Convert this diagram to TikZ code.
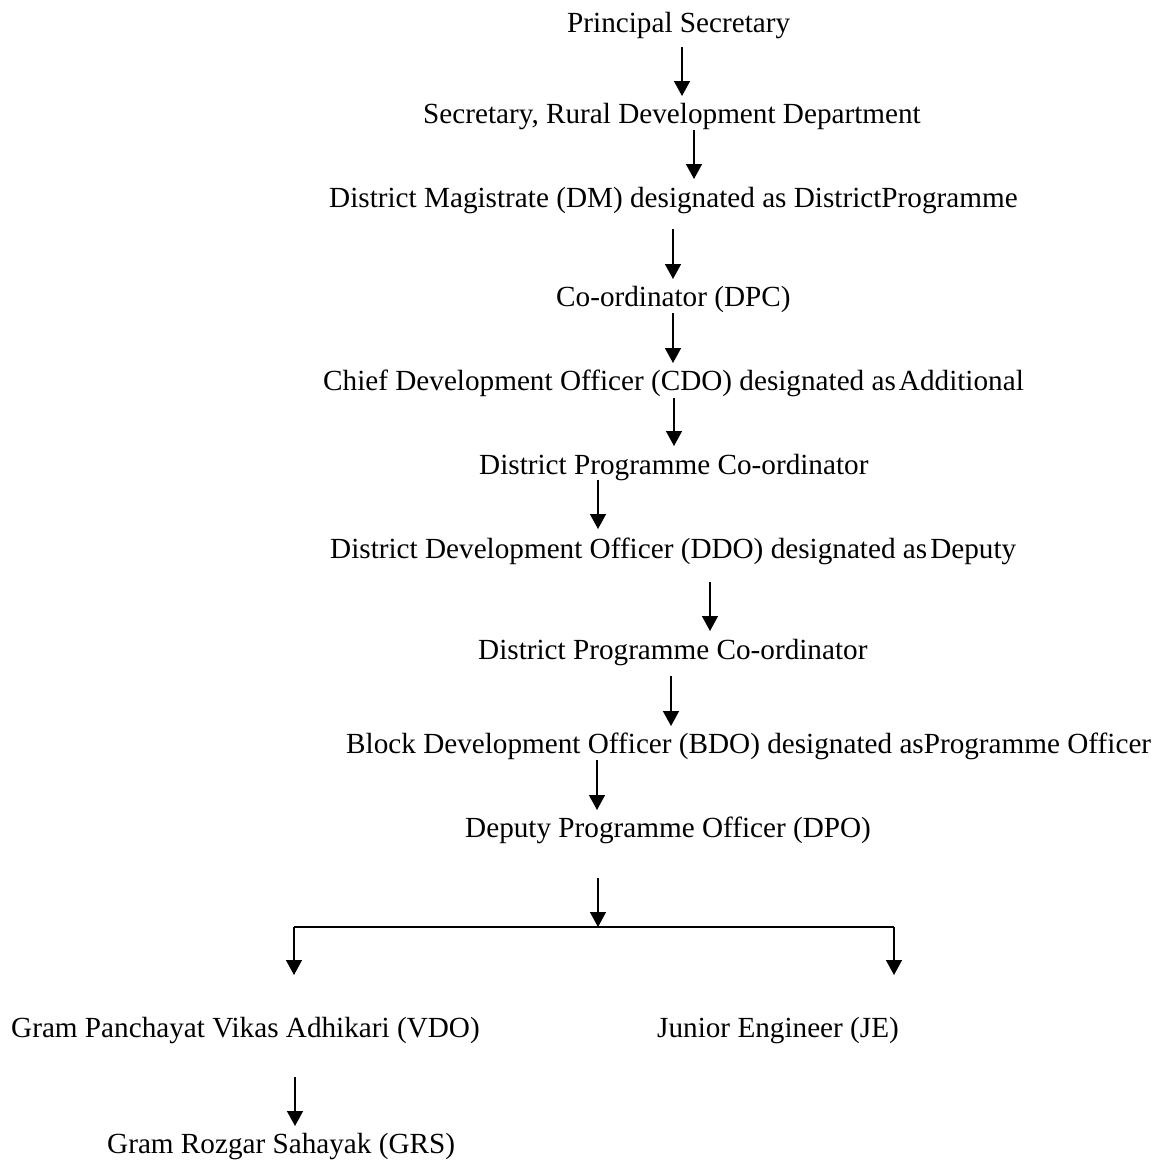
\documentclass[tikz,border=0pt]{standalone}
\usepackage{fontspec}
\setmainfont{Liberation Serif}
\usetikzlibrary{arrows.meta}
\begin{document}
\begin{tikzpicture}[x=1pt,y=-1pt,
  lbl/.style={anchor=base west,inner sep=0pt,font=\fontsize{29.2}{35}\selectfont},
  arr/.style={line width=1.5pt,-{Triangle[width=16pt,length=15pt]}},
  ln/.style={line width=1.8pt}]
\useasboundingbox (0,0) rectangle (1156,1162);
\node[lbl] (ps)  at (567,32)   {Principal Secretary};
\node[lbl] (sec) at (423,123)  {Secretary, Rural Development Department};
\node[lbl] (dm)  at (329,207)  {District Magistrate (DM) designated as DistrictProgramme};
\node[lbl] (dpc) at (556,306)  {Co-ordinator (DPC)};
\node[lbl] (cdo) at (323,390)  {Chief Development Officer (CDO) designated as\kern3pt Additional};
\node[lbl] (dpca) at (479,474) {District Programme Co-ordinator};
\node[lbl] (ddo) at (330,558)  {District Development Officer (DDO) designated as\kern3pt Deputy};
\node[lbl] (dpcb) at (478,659) {District Programme Co-ordinator};
\node[lbl] (bdo) at (346,753)  {Block Development Officer (BDO) designated asProgramme Officer};
\node[lbl] (dpo) at (465,837)  {Deputy Programme Officer (DPO)};
\node[lbl] (vdo) at (11,1037)  {Gram Panchayat Vikas Adhikari (VDO)};
\node[lbl] (je)  at (657,1037) {Junior Engineer (JE)};
\node[lbl] (grs) at (107,1153) {Gram Rozgar Sahayak (GRS)};
% arrow end points
\coordinate (a1s) at (682,47);  \coordinate (a1e) at (682,96);
\coordinate (a2s) at (694,130); \coordinate (a2e) at (694,179);
\coordinate (a3s) at (673,229); \coordinate (a3e) at (673,279);
\coordinate (a4s) at (673,313); \coordinate (a4e) at (673,363);
\coordinate (a5s) at (674,398); \coordinate (a5e) at (674,446);
\coordinate (a6s) at (598,480); \coordinate (a6e) at (598,529);
\coordinate (a7s) at (710,582); \coordinate (a7e) at (710,631);
\coordinate (a8s) at (671,676); \coordinate (a8e) at (671,726);
\coordinate (a9s) at (597,760); \coordinate (a9e) at (597,810);
\coordinate (a10s) at (598,878); \coordinate (br) at (598,927);
\coordinate (bl) at (294,927); \coordinate (brr) at (894,927);
\coordinate (vdoin) at (294,975); \coordinate (jein) at (894,975);
\coordinate (a11s) at (295,1077); \coordinate (a11e) at (295,1126);
\draw[arr] (a1s) -- (a1e);
\draw[arr] (a2s) -- (a2e);
\draw[arr] (a3s) -- (a3e);
\draw[arr] (a4s) -- (a4e);
\draw[arr] (a5s) -- (a5e);
\draw[arr] (a6s) -- (a6e);
\draw[arr] (a7s) -- (a7e);
\draw[arr] (a8s) -- (a8e);
\draw[arr] (a9s) -- (a9e);
\draw[arr] (a10s) -- (br);
\draw[ln] (bl) -- (brr);
\draw[arr] (bl) -- (vdoin);
\draw[arr] (brr) -- (jein);
\draw[arr] (a11s) -- (a11e);
\end{tikzpicture}
\end{document}
